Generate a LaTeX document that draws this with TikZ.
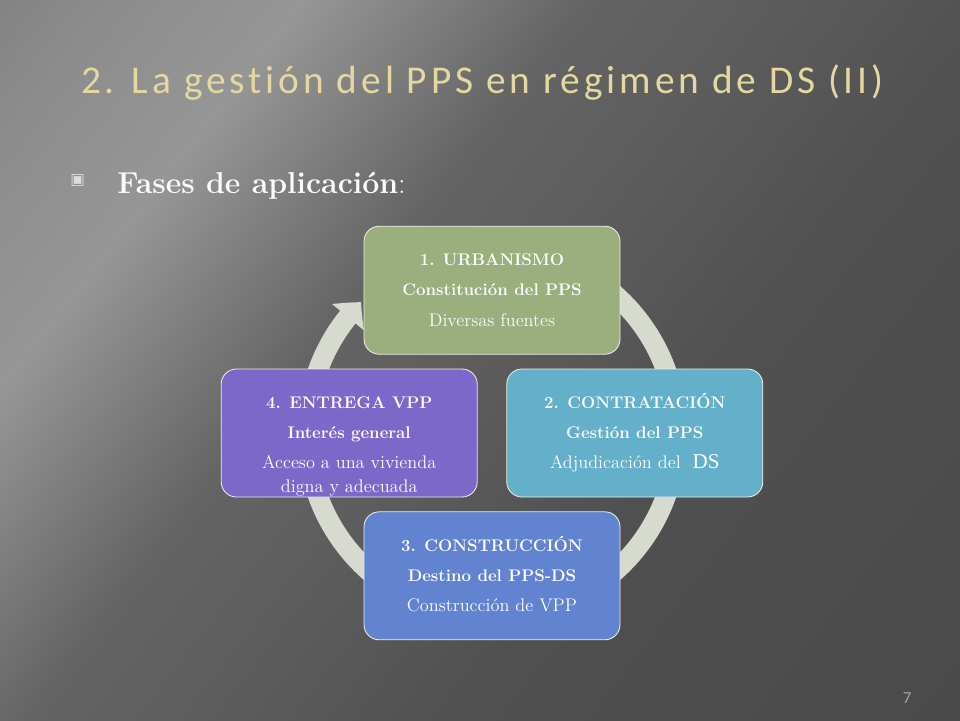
\documentclass[tikz,border=0pt]{standalone}
\usepackage{fontspec}
\usetikzlibrary{arrows.meta,bending,calc}
\newfontfamily\titlefont[LetterSpace=10,Ligatures={NoCommon}]{Carlito}
\newfontfamily\symfont{DejaVu Sans}
\newfontfamily\dsfont{Liberation Serif}
\newfontfamily\numfont{Carlito}
\definecolor{slidetitle}{RGB}{228,216,160}
\definecolor{headwhite}{RGB}{250,250,250}
\definecolor{bulletgray}{RGB}{220,220,220}
\definecolor{pagegray}{RGB}{165,165,165}
\definecolor{urbgreen}{RGB}{154,174,126}
\definecolor{contteal}{RGB}{100,175,201}
\definecolor{consblue}{RGB}{98,131,208}
\definecolor{entpurple}{RGB}{123,104,201}
\definecolor{ringgray}{RGB}{214,218,207}
\definecolor{boxtext}{RGB}{252,252,252}
\definecolor{boxline}{RGB}{236,238,230}
\definecolor{bgA}{RGB}{104,104,104}
\definecolor{bgB}{RGB}{140,140,140}
\definecolor{bgC}{RGB}{150,150,150}
\definecolor{bgD}{RGB}{100,100,100}
\definecolor{bgE}{RGB}{92,92,92}
\definecolor{bgF}{RGB}{80,80,80}
\definecolor{bgG}{RGB}{70,70,70}
\pgfdeclarehorizontalshading{slidebg}{100bp}{color(0bp)=(bgA); color(20bp)=(bgB); color(29bp)=(bgC); color(42bp)=(bgD); color(51bp)=(bgE); color(62bp)=(bgF); color(100bp)=(bgG)}
% text of one phase box, aligned to the top
\newcommand{\phasetext}[1]{\parbox[c][3.2cm][t]{6.4cm}{\centering\fontsize{13}{21.5}\selectfont\vspace*{13pt}\strut#1}}

\begin{document}
\begin{tikzpicture}[auto, node distance=3.57cm,
  phase/.style={rectangle, rounded corners=0.38cm, draw=boxline, line width=0.6pt, inner sep=0pt, text=boxtext},
  ring/.style={draw=ringgray, line width=0.5cm, -{Triangle[width=1.0cm, length=0.5cm, bend]}}]
	\useasboundingbox (0,0) rectangle (24,18);
	\shade[shading=slidebg, shading angle=-38] (0,0) rectangle (24,18);
	% Title and heading
	\node [anchor=base, text=slidetitle, font=\titlefont\fontsize{28}{32}\selectfont] (title) at (12.06,15.66) {2. La gestión del PPS en régimen de DS (II)};
	\node [inner sep=0pt, text=bulletgray, font=\symfont\fontsize{11}{13}\selectfont] (bullet) at (1.94,13.49) {▣};
	\node [anchor=base west, inner sep=0pt, text=headwhite, font=\fontsize{21.5}{24}\selectfont] (fases) at (2.925,13.175) {\textbf{Fases de aplicación}:};
	% Cycle
	\coordinate (hub) at (12.3,7.175);
	\draw [ring] ($(hub)+(90:4.625)$) arc[start angle=90, end angle=-225, radius=4.625cm];
	\node [phase, fill=urbgreen, above of=hub] (urbanismo) {\phasetext{\textbf{\fontsize{12}{21.5}\selectfont 1. URBANISMO}\\ \textbf{\fontsize{12}{21.5}\selectfont Constitución del PPS}\\ Diversas fuentes}};
	\node [phase, fill=contteal, right of=hub] (contratacion) {\phasetext{\textbf{\fontsize{12}{21.5}\selectfont 2. CONTRATACIÓN}\\ \textbf{\fontsize{12}{21.5}\selectfont Gestión del PPS}\\ Adjudicación del\ \ {\dsfont\fontsize{15}{16}\selectfont DS}}};
	\node [phase, fill=consblue, below of=hub] (construccion) {\phasetext{\textbf{\fontsize{12}{21.5}\selectfont 3. CONSTRUCCIÓN}\\ \textbf{\fontsize{12}{21.5}\selectfont Destino del PPS-DS}\\ Construcción de VPP}};
	\node [phase, fill=entpurple, left of=hub] (entrega) {\phasetext{\textbf{\fontsize{12}{21.5}\selectfont 4. ENTREGA VPP}\\ \textbf{\fontsize{12}{21.5}\selectfont Interés general}\\ Acceso a una vivienda\\[-5pt] digna y adecuada}};
	\node [text=pagegray, font=\numfont\fontsize{12}{14}\selectfont] (pagenum) at (22.68,0.55) {7};
\end{tikzpicture}
\end{document}
